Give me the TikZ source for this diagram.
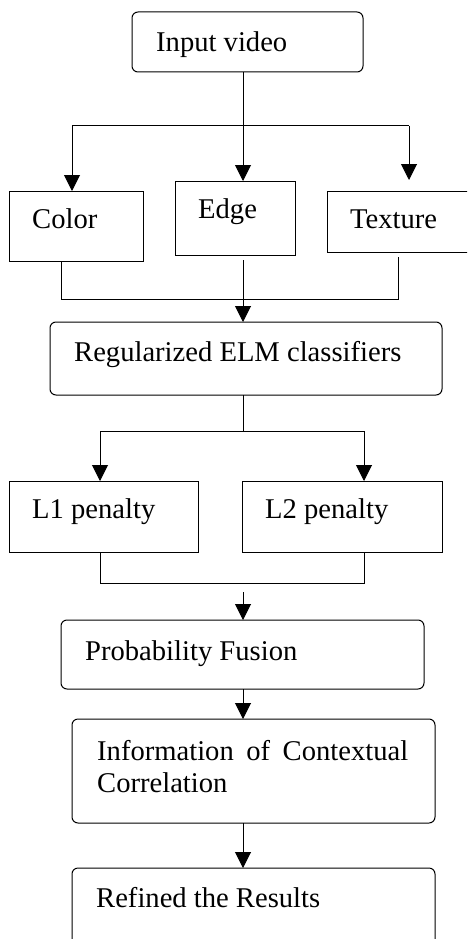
\documentclass[tikz,border=0pt]{standalone}
\usepackage{fontspec}
\setmainfont{Liberation Serif}
\usetikzlibrary{arrows.meta}
\begin{document}
\begin{tikzpicture}[x=1pt,y=-1pt,
  box/.style={draw=black,line width=1pt,rectangle,inner sep=0pt,outer sep=0pt},
  rbox/.style={box,rounded corners=6pt},
  lbl/.style={anchor=base west,inner sep=0pt,font=\fontsize{28.6}{32}\selectfont},
  line/.style={line width=1pt},
  arr/.style={line width=1pt,-{Triangle[width=16pt,length=16pt]}}]
\useasboundingbox (0,0) rectangle (467,939);
\clip (0,0) rectangle (467,939);
% boxes
\node[rbox,minimum width=231pt,minimum height=60pt] (in) at (247.5,42) {};
\node[box,minimum width=134pt,minimum height=70pt] (color) at (76,226) {};
\node[box,minimum width=120pt,minimum height=74pt] (edge) at (235,218) {};
\node[box,minimum width=153pt,minimum height=61pt] (texture) at (403.5,221.5) {};
\node[rbox,minimum width=392pt,minimum height=73pt] (reg) at (246,358.5) {};
\node[box,minimum width=189pt,minimum height=71pt] (l1) at (103.5,516.5) {};
\node[box,minimum width=200pt,minimum height=71pt] (l2) at (342,516.5) {};
\node[rbox,minimum width=363pt,minimum height=69pt] (prob) at (242.5,654.5) {};
\node[rbox,minimum width=363pt,minimum height=104pt] (info) at (253.5,771) {};
\node[rbox,minimum width=363pt,minimum height=92pt] (ref) at (253.5,914) {};
% texts
\node[lbl] (tin) at (156,52) {Input video};
\node[lbl] (tcolor) at (32,228) {Color};
\node[lbl] (tedge) at (198,218) {Edge};
\node[lbl] (ttexture) at (350,228) {Texture};
\node[lbl] (treg) at (74,361) {Regularized ELM classifiers};
\node[lbl] (tl1) at (32,518) {L1 penalty};
\node[lbl] (tl2) at (265,518) {L2 penalty};
\node[lbl] (tprob) at (85,660) {Probability Fusion};
\node[lbl,anchor=north west,text width=311pt,align=justify] (tinfo) at (97,740) {Information of Contextual Correlation};
\node[lbl] (tref) at (96,907) {Refined the Results};
% junction coordinates
\coordinate (s1) at (243,126);
\coordinate (s1l) at (72,126);
\coordinate (s1r) at (409,126);
\coordinate (tt) at (409,180);
\coordinate (m1l) at (61,299);
\coordinate (m1r) at (398,299);
\coordinate (s2) at (243,431);
\coordinate (s2l) at (100,431);
\coordinate (s2r) at (364,431);
\coordinate (m2l) at (100,583);
\coordinate (m2r) at (364,583);
\coordinate (a3) at (243,592);
% connectors
\draw[arr] (in.south -| s1) -- (edge.north -| s1);
\draw[line] (s1l) -- (s1r);
\draw[arr] (s1l) -- (color.north -| s1l);
\draw[arr] (s1r) -- (tt);
\draw[line] (color.south -| m1l) -- (m1l) -- (m1r) -- ([yshift=-5pt]texture.south -| m1r);
\draw[arr] ([yshift=-5pt]edge.south -| s1) -- (reg.north -| s1);
\draw[line] (reg.south -| s2) -- (s2);
\draw[line] (s2l) -- (s2r);
\draw[arr] (s2l) -- (l1.north -| s2l);
\draw[arr] (s2r) -- (l2.north -| s2r);
\draw[line] (l1.south -| m2l) -- (m2l) -- (m2r) -- (l2.south -| m2r);
\draw[arr] (a3) -- (prob.north -| a3);
\draw[arr] (prob.south -| a3) -- (info.north -| a3);
\draw[arr] (info.south -| a3) -- (ref.north -| a3);
\end{tikzpicture}
\end{document}
